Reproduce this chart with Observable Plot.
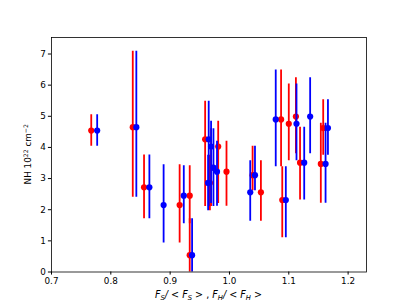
<!DOCTYPE html>
<html>
<head>
<meta charset="utf-8">
<script src="https://cdn.jsdelivr.net/npm/d3@7"></script>
<script src="https://cdn.jsdelivr.net/npm/@observablehq/plot@0.6"></script>
<style>
  html, body { margin: 0; padding: 0; background: #fff; }
  #chart svg { display: block; }
</style>
</head>
<body>
<div id="chart"></div>
<script>
// F_S/<F_S> (red) and F_H/<F_H> (blue) for each observation, with NH and its error range
const ratioS = [0.767, 0.837, 0.856, 0.916, 0.933, 0.933, 0.959, 0.967, 0.981, 0.969, 0.995, 1.053, 1.039, 1.087, 1.089, 1.100, 1.112, 1.119, 1.154, 1.158];
const ratioH = [0.777, 0.843, 0.865, 0.889, 0.923, 0.937, 0.965, 0.964, 0.969, 0.973, 0.979, 1.035, 1.043, 1.078, 1.095, 1.113, 1.136, 1.126, 1.162, 1.166];
const nh     = [4.54, 4.65, 2.72, 2.15, 2.45, 0.54, 4.26, 2.86, 4.03, 3.35, 3.22, 2.56, 3.11, 4.90, 2.31, 4.76, 4.99, 3.51, 3.47, 4.62];
const nhLo   = [4.04, 2.40, 1.71, 0.93, 1.55, -0.60, 2.10, 1.97, 2.20, 2.10, 2.11, 1.63, 2.61, 3.38, 1.10, 3.57, 3.80, 2.31, 2.21, 3.75];
const nhHi   = [5.05, 7.09, 3.76, 3.44, 3.41, 1.71, 5.48, 3.75, 4.84, 4.60, 4.20, 3.57, 4.04, 6.49, 3.38, 6.04, 6.24, 4.65, 4.78, 5.53];
const xTicks = [0.7, 0.8, 0.9, 1.0, 1.1, 1.2];
const yTicks = [0, 1, 2, 3, 4, 5, 6, 7];

const rows = nh.map((v, i) => ({s: ratioS[i], h: ratioH[i], nh: v, lo: nhLo[i], hi: nhHi[i]}));

const W = 407, H = 305;
const mL = 51, mR = 41, mT = 37, mB = 33.5;
const font = "DejaVu Sans, sans-serif";

const chart = Plot.plot({
  width: W, height: H,
  marginLeft: mL, marginRight: mR, marginTop: mT, marginBottom: mB,
  style: {fontFamily: font, fontSize: "8.8px", color: "#000", background: "#fff"},
  x: {domain: [0.7, 1.231]},
  y: {domain: [0, 7.53]},
  marks: [
    Plot.ruleX(rows, {x: "s", y1: "lo", y2: "hi", stroke: "red", strokeWidth: 1.8, clip: true}),
    Plot.dot(rows, {x: "s", y: "nh", r: 3.1, fill: "red", stroke: "none", clip: true}),
    Plot.ruleX(rows, {x: "h", y1: "lo", y2: "hi", stroke: "blue", strokeWidth: 1.8, clip: true}),
    Plot.dot(rows, {x: "h", y: "nh", r: 3.1, fill: "blue", stroke: "none", clip: true}),
    Plot.frame({stroke: "#000", strokeWidth: 0.8}),
    Plot.axisX({ticks: xTicks, tickFormat: d3.format(".1f"), tickSize: 3.1, tickPadding: 2.5, label: null, fontSize: 8.8}),
    Plot.axisY({ticks: yTicks, tickFormat: d3.format("d"), tickSize: 3.1, tickPadding: 2.5, label: null, fontSize: 8.8})
  ]
});

document.getElementById("chart").appendChild(chart);

const svg = d3.select(chart);

// x label: $F_S/<F_S>$ , $F_H/<F_H>$
const xl = svg.append("text")
  .attr("x", (mL + (W - mR)) / 2)
  .attr("y", 298)
  .attr("text-anchor", "middle")
  .attr("font-family", font)
  .attr("font-size", "9.6px")
  .attr("fill", "#000");
function math(parent, sub) {
  parent.append("tspan").attr("font-style", "italic").text("F");
  parent.append("tspan").attr("font-style", "italic").attr("font-size", "6.8px").attr("dy", 1.8).text(sub);
  parent.append("tspan").attr("dy", -1.8).attr("font-style", "italic").text("/");
  parent.append("tspan").text(" < ");
  parent.append("tspan").attr("font-style", "italic").text("F");
  parent.append("tspan").attr("font-style", "italic").attr("font-size", "6.8px").attr("dy", 1.8).text(sub);
  parent.append("tspan").attr("dy", -1.8).text(" >");
}
math(xl, "S");
xl.append("tspan").text(" , ");
math(xl, "H");

// y label: NH 10^22 cm^-2
const yl = svg.append("text")
  .attr("transform", `translate(31, ${(mT + (H - mB)) / 2}) rotate(-90)`)
  .attr("text-anchor", "middle")
  .attr("font-family", font)
  .attr("font-size", "8.8px")
  .attr("fill", "#000");
yl.append("tspan").text("NH 10");
yl.append("tspan").attr("font-size", "6.2px").attr("dy", -3.5).text("22");
yl.append("tspan").attr("dy", 3.5).text(" cm");
yl.append("tspan").attr("font-size", "6.2px").attr("dy", -3.5).text("\u22122");
</script>
</body>
</html>
